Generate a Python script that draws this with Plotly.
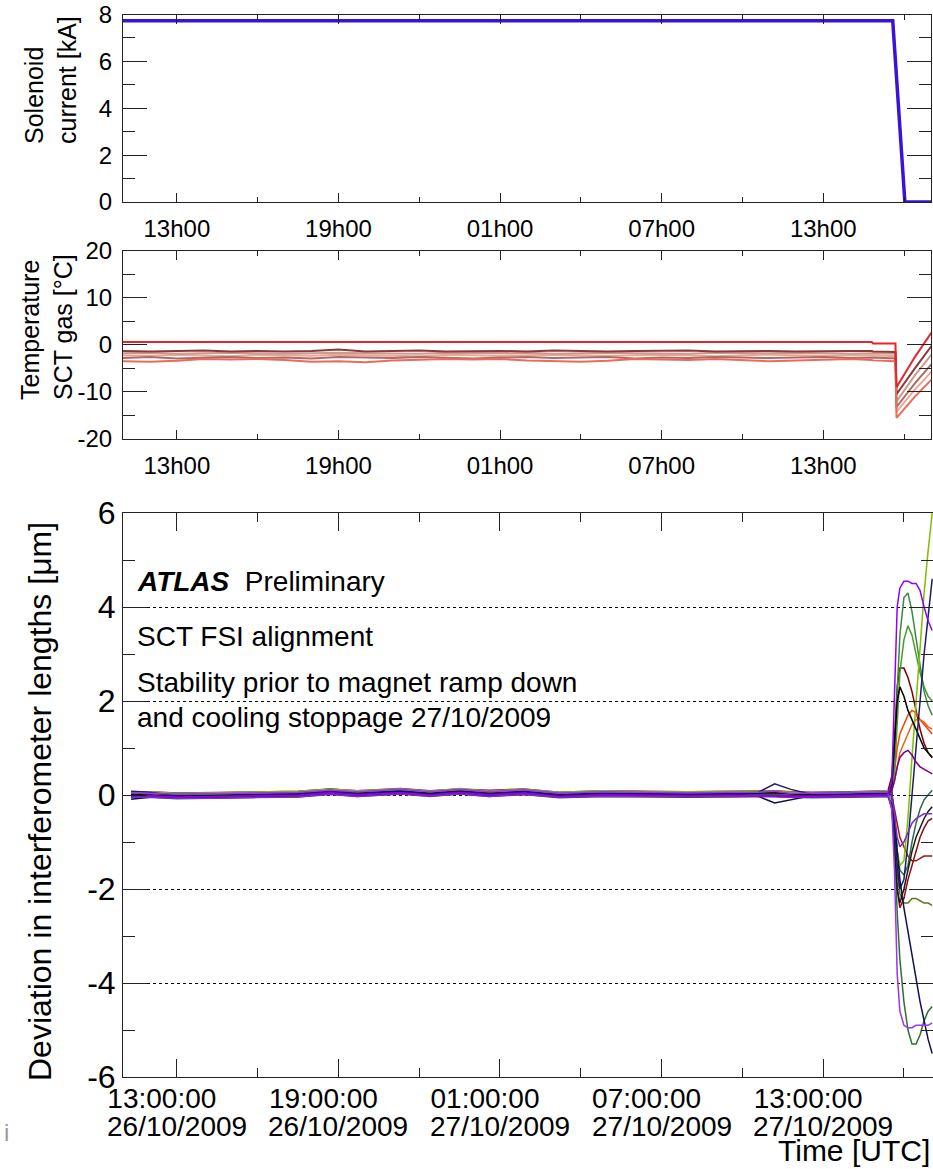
import pandas as pd
import plotly.graph_objects as go

# ---------------- data ----------------
DAY0 = pd.Timestamp("2009-10-26 00:00")

MAJOR_TICKS = ["2009-10-26 13:00", "2009-10-26 19:00", "2009-10-27 01:00",
               "2009-10-27 07:00", "2009-10-27 13:00"]
MINOR_TICKS = ["2009-10-26 16:00", "2009-10-26 22:00", "2009-10-27 04:00",
               "2009-10-27 10:00", "2009-10-27 16:00"]
SHORT_TICK_LABELS = ["13h00", "19h00", "01h00", "07h00", "13h00"]
TIME_TICK_LABELS = ["13:00:00", "19:00:00", "01:00:00", "07:00:00", "13:00:00"]
DATE_TICK_LABELS = ["26/10/2009", "26/10/2009", "27/10/2009", "27/10/2009", "27/10/2009"]

CURRENT_TICKS = [0, 2, 4, 6, 8]
CURRENT_TICK_LABELS = ["0", "2", "4", "6", "8"]
TEMP_TICKS = [-20, -10, 0, 10, 20]
TEMP_TICK_LABELS = ["-20", "-10", "0", "10", "20"]
DEV_TICKS = [-6, -4, -2, 0, 2, 4, 6]
DEV_TICK_LABELS = ["-6", "-4", "-2", "0", "2", "4", "6"]

# solenoid current (hours since 26/10/2009 00:00, kA)
CURRENT_T = [11.0, 39.58, 40.03, 41.0]
CURRENT_KA = [7.73, 7.73, 0.0, 0.0]

# SCT gas temperatures (hours, deg C)
TEMP_T = [11.0, 12.0, 13.0, 14.0, 15.0, 16.0, 17.0, 18.0, 19.0, 20.0, 21.0, 22.0,
          23.0, 24.0, 25.0, 26.0, 27.0, 28.0, 29.0, 30.0, 31.0, 32.0, 33.0, 34.0,
          35.0, 36.0, 37.0, 38.0, 38.8, 38.85, 39.68, 39.72, 40.4, 41.05]
TEMP_PINK = [-2.2, -2.3, -2.1, -2.2, -2.4, -2.1, -2.2, -2.3, -2.1, -2.2, -2.2, -2.4,
             -2.1, -2.2, -2.3, -2.2, -2.1, -2.2, -2.3, -2.2, -2.1, -2.2, -2.4, -2.2,
             -2.1, -2.2, -2.3, -2.2, -2.2, -2.2, -2.4, -14.2, -9.5, -5.5]
TEMP_ROSY = [-1.8, -1.7, -1.9, -1.8, -1.7, -1.8, -1.9, -1.8, -1.7, -1.8, -1.8, -1.9,
             -1.7, -1.8, -1.8, -1.7, -1.9, -1.8, -1.7, -1.8, -1.8, -1.9, -1.7, -1.8,
             -1.8, -1.7, -1.8, -1.9, -1.8, -1.8, -1.9, -12.0, -6.5, -1.8]
TEMP_MED = [-2.8, -2.6, -2.9, -2.7, -2.6, -2.8, -2.7, -2.9, -2.6, -2.7, -2.8, -2.6,
            -2.7, -2.9, -2.7, -2.6, -2.8, -2.7, -2.6, -2.9, -2.7, -2.8, -2.6, -2.7,
            -2.8, -2.7, -2.6, -2.8, -2.7, -2.7, -2.9, -13.2, -8.2, -3.9]
TEMP_DARK = [-1.3, -1.4, -1.3, -1.2, -1.4, -1.3, -1.4, -1.3, -1.0, -1.4, -1.3, -1.2,
             -1.4, -1.3, -1.3, -1.4, -1.2, -1.3, -1.4, -1.3, -1.3, -1.2, -1.4, -1.3,
             -1.3, -1.4, -1.3, -1.3, -1.3, -1.4, -1.5, -10.5, -5.0, 0.0]
TEMP_SALMON = [-3.5, -3.6, -3.4, -3.0, -3.1, -3.0, -3.2, -3.6, -3.5, -3.7, -3.3, -3.2,
               -3.0, -3.1, -3.0, -3.3, -3.5, -3.6, -3.4, -3.0, -3.1, -3.2, -3.0, -3.3,
               -3.5, -3.3, -3.1, -3.0, -3.2, -3.3, -3.5, -15.5, -11.0, -7.2]
TEMP_RED = [0.6, 0.6, 0.6, 0.6, 0.6, 0.6, 0.6, 0.6, 0.6, 0.6, 0.6, 0.6,
            0.6, 0.6, 0.6, 0.6, 0.6, 0.6, 0.6, 0.6, 0.6, 0.6, 0.6, 0.6,
            0.6, 0.6, 0.6, 0.6, 0.6, 0.3, 0.3, -9.0, -2.6, 2.9]

# interferometer length deviations (hours, micrometres)
DEV_T = [11.3, 12.0, 13.0, 14.5, 16.0, 17.5, 18.7, 19.7, 21.3, 22.4, 23.5, 24.6,
         25.9, 27.2, 28.8, 30.5, 32.0, 33.5, 34.6, 35.2, 35.8, 36.6, 38.0, 39.4,
         39.55, 39.65, 39.75, 39.85, 40.0, 40.15, 40.3, 40.45, 40.6, 40.75, 40.9, 41.05]

DEV_MAROON_UP = [0.04, 0.05, 0.02, 0.03, 0.05, 0.06, 0.12, 0.07, 0.11, 0.08, 0.12, 0.06,
                 0.11, 0.05, 0.07, 0.06, 0.05, 0.06, 0.07, 0.07, 0.05, 0.04, 0.05, 0.07,
                 0.4, 1.2, 2.3, 2.7, 2.7, 2.5, 2.2, 1.8, 1.4, 1.1, 0.9, 0.8]
DEV_MAROON_DOWN = [-0.03, -0.02, -0.05, -0.04, -0.03, -0.01, 0.05, 0.0, 0.05, -0.01, 0.05, 0.0,
                   0.04, -0.03, 0.0, -0.01, -0.02, -0.01, -0.01, 0.0, -0.02, -0.03, -0.02, 0.0,
                   -0.3, -1.0, -2.0, -2.4, -2.2, -1.8, -1.5, -1.2, -0.9, -0.7, -0.55, -0.5]
DEV_DARKRED = [0.06, 0.07, 0.04, 0.05, 0.06, 0.08, 0.13, 0.09, 0.14, 0.09, 0.13, 0.10,
               0.13, 0.06, 0.09, 0.08, 0.07, 0.08, 0.08, 0.09, 0.07, 0.06, 0.07, 0.09,
               0.0, -0.3, -0.6, -0.9, -1.1, -1.3, -1.4, -1.4, -1.35, -1.3, -1.3, -1.3]
DEV_ORANGERED = [0.02, 0.03, 0.0, 0.01, 0.02, 0.04, 0.10, 0.05, 0.10, 0.05, 0.10, 0.05,
                 0.09, 0.02, 0.05, 0.04, 0.03, 0.04, 0.04, 0.05, 0.03, 0.02, 0.03, 0.05,
                 0.2, 0.5, 1.0, 1.3, 1.5, 1.7, 1.8, 1.75, 1.6, 1.5, 1.4, 1.3]
DEV_ORANGE = [-0.05, -0.04, -0.07, -0.06, -0.05, -0.03, 0.03, -0.02, 0.03, -0.02, 0.03, -0.02,
              0.02, -0.05, -0.02, -0.03, -0.04, -0.03, -0.03, -0.02, -0.04, -0.05, -0.04, -0.02,
              0.1, 0.3, 0.6, 0.9, 1.1, 1.3, 1.5, 1.6, 1.6, 1.55, 1.45, 1.4]
DEV_OLIVE = [0.05, 0.06, 0.03, 0.04, 0.05, 0.07, 0.13, 0.08, 0.13, 0.08, 0.13, 0.08,
             0.12, 0.05, 0.08, 0.07, 0.06, 0.07, 0.07, 0.08, 0.06, 0.05, 0.06, 0.08,
             -0.1, -0.8, -1.7, -2.1, -2.3, -2.3, -2.2, -2.2, -2.25, -2.3, -2.3, -2.35]
DEV_TEAL = [-0.02, -0.01, -0.04, -0.03, -0.02, 0.0, 0.06, 0.01, 0.06, 0.01, 0.06, 0.01,
            0.05, -0.02, 0.01, 0.0, -0.01, 0.0, 0.0, 0.01, -0.01, -0.02, -0.01, 0.01,
            0.0, -0.5, -1.2, -1.6, -1.7, -1.5, -1.0, -0.6, -0.3, -0.1, 0.0, 0.1]
DEV_GREEN2 = [0.03, 0.04, 0.01, 0.02, 0.03, 0.05, 0.11, 0.06, 0.11, 0.06, 0.11, 0.06,
              0.10, 0.03, 0.06, 0.05, 0.04, 0.05, 0.05, 0.06, 0.04, 0.03, 0.04, 0.06,
              0.1, 0.5, 1.5, 2.6, 3.3, 3.6, 3.4, 3.0, 2.6, 2.3, 2.1, 2.0]
DEV_GREEN = [0.02, 0.03, 0.0, 0.01, 0.02, 0.04, 0.10, 0.05, 0.10, 0.05, 0.10, 0.05,
             0.09, 0.02, 0.05, 0.04, 0.03, 0.04, 0.04, 0.05, 0.03, 0.02, 0.03, 0.05,
             0.1, 0.8, 2.2, 3.4, 4.2, 4.3, 3.9, 3.3, 2.7, 2.2, 1.9, 1.7]
DEV_DARKGREEN = [-0.06, -0.05, -0.08, -0.07, -0.06, -0.04, 0.02, -0.03, 0.02, -0.03, 0.02, -0.03,
                 0.01, -0.06, -0.03, -0.04, -0.05, -0.04, -0.04, -0.03, -0.05, -0.06, -0.05, -0.03,
                 -0.2, -1.0, -2.5, -3.5, -4.4, -5.0, -5.3, -5.3, -5.1, -4.8, -4.6, -4.5]
DEV_LIGHTGREEN = [0.05, 0.07, 0.03, 0.05, 0.06, 0.08, 0.12, 0.09, 0.13, 0.08, 0.14, 0.08,
                  0.12, 0.06, 0.09, 0.07, 0.07, 0.07, 0.08, 0.08, 0.06, 0.05, 0.06, 0.09,
                  -0.1, -0.5, -1.2, -1.5, -1.4, -0.5, 0.8, 2.0, 3.2, 4.3, 5.2, 6.0]
DEV_BLACK_UP = [0.01, 0.0, -0.02, -0.01, 0.0, 0.02, 0.09, 0.03, 0.08, 0.03, 0.08, 0.03,
                0.07, 0.0, 0.03, 0.02, 0.01, 0.02, 0.03, 0.05, 0.02, 0.0, 0.01, 0.03,
                0.2, 1.0, 2.0, 2.3, 2.1, 1.8, 1.6, 1.4, 1.2, 1.0, 0.9, 0.8]
DEV_BLACK_DOWN = [-0.05, -0.04, -0.06, -0.05, -0.04, -0.02, 0.04, -0.01, 0.04, -0.01, 0.04, -0.01,
                  0.03, -0.04, -0.01, -0.02, -0.03, -0.02, -0.03, -0.03, -0.03, -0.04, -0.03, -0.01,
                  -0.2, -1.0, -2.0, -2.3, -2.0, -1.6, -1.2, -0.9, -0.7, -0.5, -0.35, -0.25]
DEV_NAVY_UP = [0.08, 0.06, -0.02, -0.02, 0.0, 0.02, 0.10, 0.03, 0.08, 0.02, 0.07, 0.03,
               0.07, 0.0, 0.03, 0.02, 0.01, 0.02, 0.06, 0.24, 0.12, 0.01, 0.01, 0.03,
               0.0, -0.6, -1.5, -2.0, -1.8, -1.0, 0.0, 1.0, 2.0, 3.0, 3.8, 4.6]
DEV_NAVY_DOWN = [-0.09, -0.05, -0.03, -0.02, -0.01, 0.01, 0.06, 0.02, 0.07, 0.02, 0.06, 0.02,
                 0.06, -0.01, 0.02, 0.01, 0.0, 0.01, -0.03, -0.17, -0.10, -0.01, 0.0, 0.02,
                 0.1, -0.5, -1.2, -1.8, -2.4, -2.9, -3.4, -3.9, -4.4, -4.8, -5.2, -5.5]
DEV_DARKPURPLE = [-0.02, -0.01, -0.04, -0.03, -0.02, 0.0, 0.05, 0.01, 0.05, 0.0, 0.06, 0.01,
                  0.04, -0.03, 0.01, 0.0, -0.01, 0.0, -0.01, 0.0, -0.01, -0.02, -0.01, 0.01,
                  0.1, 0.3, 0.6, 0.8, 0.9, 0.95, 0.85, 0.7, 0.6, 0.55, 0.5, 0.45]
DEV_PURPLE_MID = [-0.05, -0.05, -0.07, -0.07, -0.05, -0.04, 0.01, -0.03, 0.02, -0.02, 0.02, -0.03,
                  0.01, -0.05, -0.03, -0.03, -0.04, -0.04, -0.04, -0.03, -0.05, -0.05, -0.04, -0.03,
                  0.0, -0.4, -0.9, -1.1, -1.0, -0.8, -0.6, -0.5, -0.45, -0.4, -0.4, -0.4]
DEV_VIOLET_DOWN = [0.05, 0.04, 0.02, 0.03, 0.04, 0.06, 0.10, 0.07, 0.12, 0.07, 0.12, 0.07,
                   0.11, 0.04, 0.07, 0.06, 0.05, 0.06, 0.06, 0.08, 0.03, 0.04, 0.05, 0.07,
                   -0.3, -1.6, -3.8, -4.6, -4.9, -4.95, -4.95, -4.9, -4.9, -4.9, -4.9, -4.85]
DEV_VIOLET_UP = [-0.02, -0.02, -0.05, -0.04, -0.03, -0.01, 0.04, 0.0, 0.05, 0.0, 0.05, 0.0,
                 0.04, -0.03, 0.0, -0.01, -0.02, -0.01, -0.02, -0.04, -0.03, -0.03, -0.02, 0.0,
                 0.3, 2.0, 4.0, 4.4, 4.55, 4.55, 4.5, 4.5, 4.35, 4.0, 3.7, 3.5]

# ---------------- styles ----------------
FONT = "Liberation Sans, Arial, Helvetica, sans-serif"
W, H = 933, 1169


def to_time(hours):
    return [DAY0 + pd.Timedelta(hours=h) for h in hours]


fig = go.Figure()

# top panel: solenoid current
fig.add_trace(go.Scatter(x=to_time(CURRENT_T), y=CURRENT_KA, mode="lines",
                         line=dict(color="#3a12d8", width=3.5),
                         xaxis="x", yaxis="y"))

# middle panel: temperatures
temp_series = [
    (TEMP_PINK, "#eca79a"),
    (TEMP_ROSY, "#c89d90"),
    (TEMP_MED, "#b06a5f"),
    (TEMP_DARK, "#8a3a37"),
    (TEMP_SALMON, "#ea6b5c"),
    (TEMP_RED, "#e8242a"),
]
for vals, col in temp_series:
    fig.add_trace(go.Scatter(x=to_time(TEMP_T), y=vals, mode="lines",
                             line=dict(color=col, width=2),
                             xaxis="x2", yaxis="y2"))

# bottom panel: deviations
dev_series = [
    (DEV_MAROON_UP, "#7f0000"),
    (DEV_MAROON_DOWN, "#8b1010"),
    (DEV_DARKRED, "#a01818"),
    (DEV_ORANGERED, "#ff4000"),
    (DEV_ORANGE, "#e86020"),
    (DEV_OLIVE, "#5a7a1a"),
    (DEV_TEAL, "#2e6b4f"),
    (DEV_GREEN2, "#4a9a30"),
    (DEV_GREEN, "#3b8b3b"),
    (DEV_DARKGREEN, "#2f6f2f"),
    (DEV_LIGHTGREEN, "#7cc000"),
    (DEV_BLACK_UP, "#000000"),
    (DEV_BLACK_DOWN, "#1a1a1a"),
    (DEV_NAVY_UP, "#1c1c6b"),
    (DEV_NAVY_DOWN, "#101050"),
    (DEV_DARKPURPLE, "#800080"),
    (DEV_PURPLE_MID, "#7b2fbe"),
    (DEV_VIOLET_DOWN, "#9b30ff"),
    (DEV_VIOLET_UP, "#8f00ff"),
]
for vals, col in dev_series:
    fig.add_trace(go.Scatter(x=to_time(DEV_T), y=vals, mode="lines",
                             line=dict(color=col, width=1.5),
                             xaxis="x3", yaxis="y3"))


def px_x(p):
    return p / W


def px_y(p):
    return 1 - p / H


FRAME = "#222222"


def xaxis_style(domain, rng, ticktext, font_size, maj_len, min_len, standoff, shift=0):
    return dict(
        domain=domain, range=rng, type="date", automargin=False,
        tickmode="array", tickvals=MAJOR_TICKS, ticktext=ticktext,
        ticks="inside", ticklen=maj_len, tickwidth=1, tickcolor=FRAME,
        minor=dict(tickmode="array", tickvals=MINOR_TICKS, ticks="inside",
                   ticklen=min_len, tickwidth=1, tickcolor=FRAME, showgrid=False),
        showline=True, linecolor=FRAME, linewidth=1, mirror="ticks",
        showgrid=False, zeroline=False,
        tickfont=dict(family=FONT, size=font_size, color="black"),
        ticklabelstandoff=standoff, ticklabelshift=shift,
    )


def yaxis_style(domain, rng, tickvals, ticktext, minorvals, font_size, standoff, grid=False):
    d = dict(
        domain=domain, range=rng, automargin=False,
        tickmode="array", tickvals=tickvals, ticktext=ticktext,
        ticks="inside", ticklen=24, tickwidth=1, tickcolor=FRAME,
        minor=dict(tickmode="array", tickvals=minorvals, ticks="inside",
                   ticklen=12, tickwidth=1, tickcolor=FRAME, showgrid=False),
        showline=True, linecolor=FRAME, linewidth=1, mirror="ticks",
        showgrid=grid, zeroline=False,
        tickfont=dict(family=FONT, size=font_size, color="black"),
        ticklabelstandoff=standoff,
    )
    if grid:
        d.update(gridcolor="black", gridwidth=1, griddash="dot")
    return d


X_RANGE = ["2009-10-26 11:00", "2009-10-27 17:00"]
X3_RANGE = ["2009-10-26 11:00", "2009-10-27 17:04:48"]
BOTTOM_DOMAIN = [px_x(123), 1.0]

fig.update_layout(
    template="none",
    width=W, height=H,
    margin=dict(l=0, r=0, t=0, b=0, autoexpand=False),
    paper_bgcolor="white", plot_bgcolor="white",
    showlegend=False,
    xaxis=dict(anchor="y", **xaxis_style([px_x(123), px_x(931)], X_RANGE,
                                         SHORT_TICK_LABELS, 24, 9, 5, 5)),
    yaxis=dict(anchor="x", **yaxis_style([px_y(202), px_y(14.5)], [0, 8],
                                         CURRENT_TICKS, CURRENT_TICK_LABELS,
                                         [1, 3, 5, 7], 24, 5)),
    xaxis2=dict(anchor="y2", **xaxis_style([px_x(123), px_x(931)], X_RANGE,
                                           SHORT_TICK_LABELS, 24, 9, 5, 5)),
    yaxis2=dict(anchor="x2", **yaxis_style([px_y(439), px_y(250.7)], [-20, 20],
                                           TEMP_TICKS, TEMP_TICK_LABELS,
                                           [-15, -5, 5, 15], 24, 5)),
    xaxis3=dict(anchor="y3", **xaxis_style(BOTTOM_DOMAIN, X3_RANGE,
                                           TIME_TICK_LABELS, 28, 18, 9, -4, -15)),
    yaxis3=dict(anchor="x3", **yaxis_style([px_y(1077), px_y(513)], [-6, 6],
                                           DEV_TICKS, DEV_TICK_LABELS,
                                           [-5, -3, -1, 1, 3, 5], 32, 0, grid=True)),
)

annotations = [
    dict(text="Solenoid<br>current [kA]", x=px_x(50), y=px_y(80), textangle=-90,
         align="left", font=dict(size=25)),
    dict(text="Temperature<br>SCT gas [°C]", x=px_x(47), y=px_y(327), textangle=-90,
         align="left", font=dict(size=25)),
    dict(text="Deviation in interferometer lengths [μm]", x=px_x(40), y=px_y(802),
         textangle=-90, font=dict(size=32)),
    dict(text="Time [UTC]", x=px_x(932), y=px_y(1150), xanchor="right",
         font=dict(size=30)),
    dict(text="<b><i>ATLAS</i></b>&nbsp;&nbsp;Preliminary", x=px_x(135), y=px_y(581),
         xanchor="left", font=dict(size=28)),
    dict(text="SCT FSI alignment", x=px_x(135), y=px_y(636), xanchor="left",
         font=dict(size=28)),
    dict(text="Stability prior to magnet ramp down", x=px_x(135), y=px_y(682),
         xanchor="left", font=dict(size=28)),
    dict(text="and cooling stoppage 27/10/2009", x=px_x(135), y=px_y(717),
         xanchor="left", font=dict(size=28)),
    dict(text="i", x=px_x(6), y=px_y(1132), font=dict(size=24, color="#9a9a9a")),
]
# second row of the bottom time-axis labels: dates, placed on the x3 scale
for tick, date_label in zip(MAJOR_TICKS, DATE_TICK_LABELS):
    annotations.append(dict(text=date_label, x=tick, xref="x3", y=px_y(1126),
                            font=dict(size=28)))

for a in annotations:
    a.setdefault("xref", "paper")
    a.setdefault("yref", "paper")
    a.setdefault("showarrow", False)
    a.setdefault("xanchor", "center")
    a.setdefault("yanchor", "middle")
    f = a["font"]
    f.setdefault("family", FONT)
    f.setdefault("color", "black")
fig.update_layout(annotations=annotations)

fig.write_html("out.html", config={"displayModeBar": False},
               post_script="document.body.style.margin='0px';")
